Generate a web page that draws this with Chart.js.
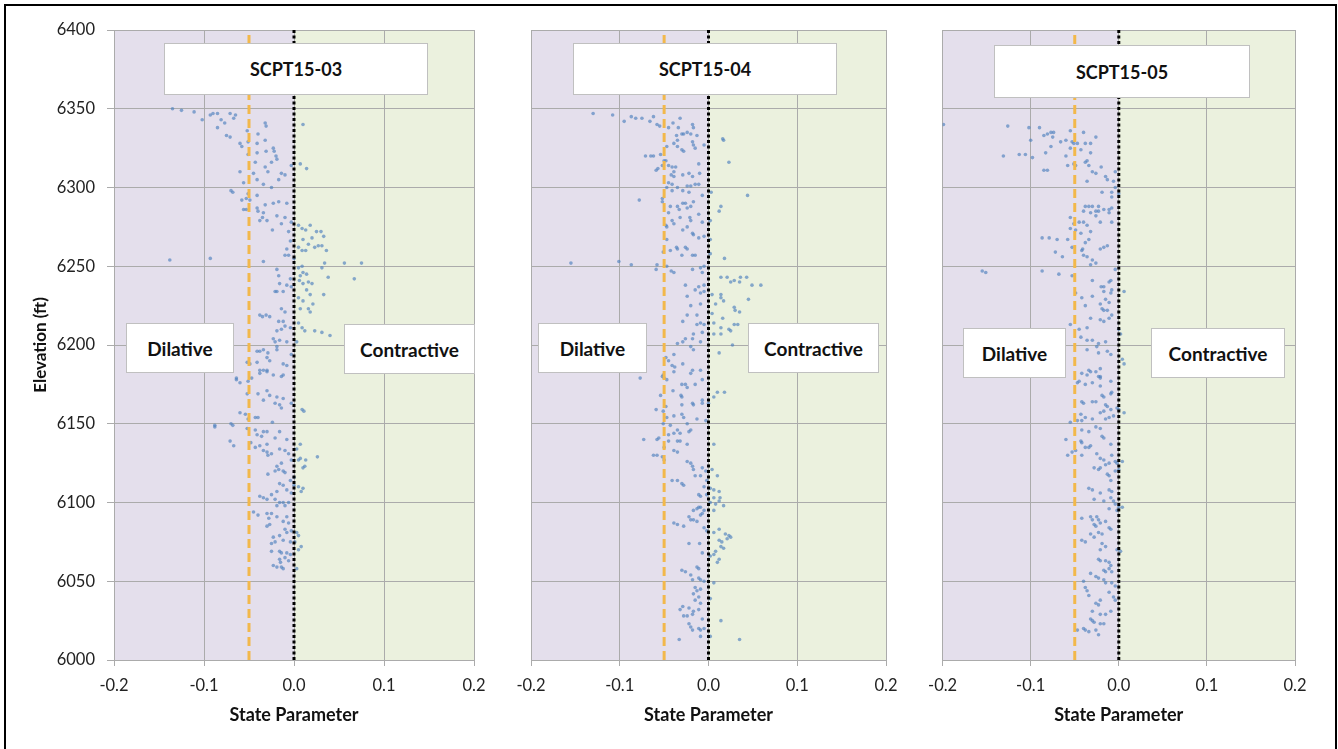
<!DOCTYPE html>
<html><head><meta charset="utf-8">
<script src="https://cdn.jsdelivr.net/npm/chart.js@4.4.0/dist/chart.umd.min.js"></script>
<style>
html,body{margin:0;padding:0;background:#fff;width:1338px;height:749px;overflow:hidden;font-family:Lato,'Liberation Sans',sans-serif;}
#frame{position:absolute;left:4px;top:4px;width:1329px;height:780px;border:2px solid #000;border-bottom:none;z-index:5;pointer-events:none;}
canvas.pan{position:absolute;top:0;}
.box{position:absolute;background:#fff;border:1px solid #c0c0c0;box-sizing:border-box;display:flex;align-items:center;justify-content:center;font-weight:700;font-size:19px;color:#111;z-index:4;}
.box.t{font-size:18px;}
</style></head>
<body>
<div id="frame"></div>
<canvas id="c1" class="pan" width="500" height="749" style="left:0px"></canvas>
<canvas id="c2" class="pan" width="418" height="749" style="left:500px"></canvas>
<canvas id="c3" class="pan" width="420" height="749" style="left:918px"></canvas>
<div class="box t" style="left:164px;top:43px;width:264px;height:52px">SCPT15-03</div>
<div class="box" style="left:126px;top:323px;width:108px;height:50px">Dilative</div>
<div class="box" style="left:344px;top:324px;width:131px;height:50px">Contractive</div>
<div class="box t" style="left:573px;top:43px;width:264px;height:52px">SCPT15-04</div>
<div class="box" style="left:538px;top:323px;width:109px;height:50px">Dilative</div>
<div class="box" style="left:748px;top:323px;width:131px;height:50px">Contractive</div>
<div class="box t" style="left:994px;top:45px;width:256px;height:53px">SCPT15-05</div>
<div class="box" style="left:963px;top:328px;width:103px;height:50px">Dilative</div>
<div class="box" style="left:1151px;top:328px;width:134px;height:50px">Contractive</div>
<script>
// ---- data ----
const xTicks = [-0.2, -0.1, 0.0, 0.1, 0.2];
const yTicks = [6000, 6050, 6100, 6150, 6200, 6250, 6300, 6350, 6400];
const dilativeLimit = -0.05;   // orange dashed line
const boundary = 0.0;          // dotted black line
const panelNames = ["SCPT15-03", "SCPT15-04", "SCPT15-05"];

// [state parameter, elevation ft]
const scpt1503 = [
[-0.135,6350],[-0.125,6349],[-0.111,6348],[-0.102,6343],[-0.093,6346],[-0.090,6347],[-0.085,6347],[-0.081,6343],[-0.077,6341],[-0.071,6347],[-0.067,6344],[-0.065,6346],[-0.085,6338],[-0.052,6336],[-0.032,6341],[-0.031,6339],[0.010,6340],
[-0.075,6333],[-0.071,6332],[-0.040,6334],[-0.032,6330],[-0.060,6328],[-0.058,6326],[-0.051,6329],[-0.041,6328],[-0.023,6325],[-0.022,6323],[-0.031,6323],[-0.051,6321],[-0.041,6322],[-0.020,6320],[-0.019,6318],[-0.025,6316],[-0.043,6316],[-0.060,6310],[-0.045,6309],[-0.032,6313],[-0.029,6310],[-0.014,6309],[-0.010,6308],[-0.003,6314],[0.007,6315],[0.014,6312],[-0.017,6305],[-0.041,6305],[-0.034,6302],[-0.025,6300],[-0.056,6303],[-0.070,6298],[-0.068,6297],[-0.051,6296],[-0.041,6295],[-0.058,6292],[-0.053,6293],[-0.049,6292],[-0.032,6289],[-0.023,6290],[-0.017,6291],[-0.008,6290],[-0.041,6287],[-0.040,6285],[-0.056,6286],[-0.053,6286],[-0.034,6284],[-0.035,6281],[-0.019,6282],[-0.010,6281],[-0.038,6279],[-0.030,6279],[-0.014,6277],[-0.003,6278],[-0.024,6273],[-0.006,6272],
[0.005,6276],[0.009,6274],[0.018,6276],[0.013,6273],[0.025,6272],[0.030,6272],[0.033,6269],[0.020,6268],[0.010,6267],[0.005,6262],[0.016,6264],[0.023,6262],[0.027,6263],[0.031,6263],[0.036,6260],[0.009,6260],[0.013,6260],[-0.004,6266],[-0.008,6261],[-0.010,6257],[-0.006,6257],[0.000,6255],
[0.075,6252],[0.056,6252],[0.034,6252],[0.031,6249],[0.067,6242],[0.038,6243],[0.009,6250],[0.005,6249],[0.010,6246],[0.007,6244],[0.014,6245],[0.006,6241],[0.016,6240],[0.020,6239],[0.010,6239],[0.014,6235],[0.018,6232],[0.033,6232],[0.005,6230],[0.010,6228],[0.021,6226],[0.016,6223],[0.018,6221],[0.007,6223],[0.005,6214],[0.009,6211],[0.012,6209],[0.023,6209],[0.031,6208],[0.040,6206],[0.003,6202],
[-0.138,6254],[-0.093,6255],[-0.034,6253],[-0.019,6248],[-0.017,6244],[-0.004,6242],[-0.016,6239],[-0.021,6234],[-0.019,6234],[-0.012,6234],[-0.003,6237],[-0.008,6238],[-0.014,6223],[-0.010,6221],[-0.038,6219],[-0.035,6218],[-0.031,6219],[-0.027,6218],[-0.017,6215],[-0.012,6215],[-0.010,6212],[-0.014,6210],[-0.004,6211],[-0.019,6209],[-0.023,6204],[-0.021,6202],[-0.016,6203],[-0.008,6202],[-0.019,6199],[-0.019,6197],[-0.041,6196],[-0.038,6196],[-0.034,6197],[-0.029,6195],[-0.030,6192],[-0.027,6190],[-0.052,6189],[-0.049,6188],[-0.041,6189],[-0.012,6188],[-0.008,6187],[-0.003,6194],[-0.038,6184],[-0.034,6184],[-0.030,6184],[-0.014,6180],[-0.064,6179],
[-0.064,6178],[-0.060,6176],[-0.051,6177],[-0.047,6179],[-0.038,6182],[-0.030,6183],[-0.023,6181],[-0.012,6181],[-0.052,6169],[-0.040,6169],[-0.030,6171],[-0.027,6168],[-0.034,6165],[-0.019,6167],[-0.012,6166],[-0.021,6163],[-0.016,6162],[-0.014,6160],[-0.003,6163],[0.009,6159],[0.011,6158],[-0.060,6157],[-0.054,6156],[-0.051,6153],[-0.043,6154],[-0.040,6154],[-0.024,6151],[-0.088,6149],[-0.088,6148],[-0.070,6150],[-0.068,6149],[-0.052,6147],[-0.043,6146],[-0.034,6145],[-0.030,6145],[-0.041,6143],[-0.036,6142],[-0.021,6141],[-0.016,6145],[-0.008,6140],[-0.071,6139],[-0.067,6136],[-0.048,6138],[-0.038,6136],[-0.043,6135],[-0.030,6137],[-0.016,6134],[-0.010,6133],[-0.034,6133],[-0.030,6132],[-0.029,6130],[-0.025,6131],[0.007,6137],[0.003,6134],[-0.006,6131],[-0.003,6127],[0.005,6127],[0.007,6128],[0.013,6127],[0.026,6129],[0.010,6122],[0.012,6123],[-0.019,6123],[-0.017,6121],[-0.014,6125],[-0.012,6120],[-0.021,6120],[-0.010,6119],[-0.029,6118],[0.000,6116],[-0.004,6114],[-0.016,6112],[-0.012,6111],[0.000,6111],[0.005,6110],[0.010,6109],[0.008,6107],[-0.008,6108],[-0.019,6107],[-0.003,6106],[-0.038,6104],[-0.034,6103],[-0.030,6102],[-0.025,6105],[-0.021,6102],[-0.016,6100],[-0.012,6100],[-0.019,6098],[-0.010,6098],[-0.006,6100],[-0.045,6094],[-0.040,6092],[-0.030,6093],[-0.025,6093],[-0.028,6090],[-0.019,6091],[-0.008,6091],[-0.012,6088],[-0.006,6087],[-0.030,6085],[-0.027,6086],[-0.010,6083],[-0.008,6081],[-0.003,6082],[0.003,6081],[0.005,6079],[-0.023,6078],[-0.016,6079],[-0.012,6076],[-0.004,6075],[0.001,6075],[-0.025,6074],[-0.021,6075],[0.008,6072],[0.005,6070],[-0.016,6069],[-0.014,6068],[-0.025,6069],[-0.008,6068],[-0.004,6067],[-0.010,6065],[-0.016,6064],[-0.015,6062],[-0.006,6063],[-0.023,6060],[-0.019,6059],[-0.014,6059],[-0.012,6058],[0.003,6058]
];

const scpt1504 = [
[-0.130,6347],[-0.108,6346],[-0.095,6342],[-0.087,6345],[-0.082,6344],[-0.075,6344],[-0.066,6342],[-0.062,6345],[-0.058,6340],[-0.055,6339],[-0.045,6338],[-0.040,6341],[-0.032,6344],[-0.034,6338],[-0.030,6334],[-0.028,6334],[-0.036,6333],[-0.024,6335],[-0.020,6334],[-0.018,6340],[-0.017,6338],[-0.013,6333],[-0.047,6326],[-0.039,6328],[-0.035,6326],[-0.030,6324],[-0.028,6323],[-0.018,6329],[-0.017,6327],[-0.015,6325],[-0.005,6327],[-0.035,6330],[0.016,6331],[0.017,6330],[-0.071,6320],[-0.065,6320],[-0.062,6320],[-0.054,6321],[-0.050,6317],[-0.048,6317],[-0.052,6314],[-0.059,6311],[-0.057,6312],[-0.045,6314],[-0.041,6313],[-0.037,6313],[-0.039,6310],[-0.042,6308],[-0.039,6307],[-0.029,6308],[-0.022,6309],[-0.018,6307],[-0.011,6315],[-0.010,6309],[0.023,6316],[-0.045,6303],[-0.041,6302],[-0.035,6300],[-0.024,6301],[-0.020,6301],[-0.015,6302],[-0.011,6302],[-0.047,6300],[-0.041,6298],[-0.029,6298],[-0.022,6297],[-0.007,6295],[0.003,6297],[0.044,6295],[-0.052,6293],[-0.052,6291],[-0.078,6292],[-0.043,6288],[-0.035,6288],[-0.033,6286],[-0.029,6290],[-0.026,6290],[-0.024,6287],[-0.020,6288],[-0.017,6291],[0.014,6288],[0.012,6285],[-0.045,6284],[-0.041,6279],[-0.032,6281],[-0.021,6281],[-0.020,6279],[-0.011,6283],[-0.007,6278],[0.002,6279],[-0.048,6276],[-0.047,6275],[-0.039,6277],[-0.029,6273],[-0.024,6275],[-0.018,6271],[-0.017,6270],[-0.011,6268],[-0.005,6269],[0.002,6267],[-0.047,6267],[-0.036,6262],[-0.035,6261],[-0.026,6262],[-0.024,6261],[-0.043,6260],[-0.051,6259],[-0.030,6257],[-0.018,6257],[-0.015,6257],[0.002,6258],[0.018,6255],[-0.155,6252],[-0.101,6253],[-0.087,6251],[-0.058,6251],[-0.059,6248],[-0.047,6250],[-0.042,6247],[-0.039,6246],[-0.018,6248],[-0.009,6249],[-0.005,6250],[-0.007,6246],[0.014,6243],[0.021,6243],[0.025,6240],[0.036,6243],[0.043,6243],[0.049,6238],[0.059,6238],[0.029,6241],[0.035,6240],[-0.026,6238],[-0.011,6237],[-0.005,6238],[-0.015,6235],[-0.009,6233],[-0.024,6231],[-0.005,6234],[0.004,6232],[0.014,6232],[0.014,6230],[0.008,6226],[0.017,6228],[0.029,6224],[0.030,6222],[0.035,6221],[0.045,6229],[-0.009,6226],[-0.020,6225],[-0.013,6219],[-0.024,6219],[0.004,6220],[0.016,6217],[-0.029,6215],[-0.013,6213],[-0.009,6214],[-0.005,6213],[0.006,6214],[0.014,6211],[0.023,6210],[0.029,6213],[0.033,6213],[0.025,6209],[-0.007,6208],[0.006,6207],[0.014,6207],[-0.017,6207],[-0.026,6204],[-0.029,6202],[-0.018,6204],[-0.009,6202],[-0.035,6201],[-0.020,6199],[-0.017,6197],[0.027,6200],[0.012,6195],[-0.048,6192],[-0.045,6190],[-0.039,6194],[-0.041,6187],[-0.038,6186],[-0.029,6188],[-0.018,6184],[-0.051,6181],[-0.077,6179],[-0.009,6184],
[-0.052,6180],[-0.050,6179],[-0.039,6183],[-0.047,6178],[-0.030,6175],[-0.026,6175],[-0.024,6173],[-0.040,6171],[-0.031,6168],[-0.030,6167],[-0.020,6182],[-0.007,6178],[-0.015,6175],[0.010,6170],[0.018,6170],[0.006,6167],[-0.054,6168],[-0.030,6162],[-0.018,6163],[-0.017,6162],[-0.007,6165],[-0.007,6163],[0.000,6163],[-0.059,6159],[-0.051,6158],[-0.048,6161],[-0.047,6154],[-0.039,6155],[-0.030,6156],[-0.028,6154],[-0.013,6153],[-0.003,6152],[-0.051,6150],[-0.043,6149],[-0.024,6150],[-0.035,6146],[-0.039,6144],[-0.022,6145],[-0.020,6146],[-0.045,6143],[-0.032,6144],[-0.073,6140],[-0.056,6141],[-0.058,6140],[-0.045,6139],[-0.035,6139],[-0.032,6139],[-0.024,6137],[-0.050,6135],[-0.039,6133],[-0.035,6132],[0.006,6137],[-0.062,6130],[-0.058,6130],[-0.052,6129],[-0.050,6127],[-0.024,6126],[-0.020,6125],[-0.018,6123],[-0.017,6121],[-0.007,6122],[-0.003,6120],[0.004,6121],[0.010,6117],[-0.015,6117],[-0.009,6117],[-0.002,6114],[-0.041,6114],[-0.035,6114],[-0.030,6112],[-0.028,6111],[-0.005,6110],[0.002,6109],[0.006,6108],[0.012,6107],[-0.011,6105],[-0.009,6104],[-0.002,6105],[0.006,6103],[0.012,6101],[0.013,6103],[0.002,6100],[0.008,6099],[0.017,6098],[-0.011,6097],[-0.009,6097],[-0.013,6096],[-0.017,6095],[-0.005,6095],[0.006,6095],[-0.009,6092],[-0.007,6093],[-0.022,6091],[-0.020,6089],[-0.017,6089],[-0.013,6088],[-0.039,6087],[-0.035,6086],[-0.028,6085],[-0.005,6084],[-0.002,6082],[0.012,6083],[0.006,6081],[0.019,6080],[0.023,6079],[0.025,6078],[0.021,6077],[0.012,6076],[0.015,6075],[0.014,6072],[0.017,6071],[0.008,6069],[0.006,6067],[0.012,6064],[0.010,6062],[-0.022,6074],[-0.010,6074],[-0.007,6068],[0.002,6066],[-0.030,6057],[-0.026,6056],[-0.020,6054],[-0.013,6059],[-0.011,6058],[-0.018,6051],[-0.011,6052],[-0.009,6051],[-0.005,6050],[0.006,6049],[-0.015,6046],[-0.013,6044],[-0.009,6045],[-0.017,6042],[-0.011,6040],[-0.015,6038],[-0.009,6036],[0.002,6039],[-0.029,6034],[-0.032,6032],[-0.022,6033],[-0.017,6031],[-0.011,6032],[-0.028,6028],[-0.024,6028],[-0.018,6029],[-0.007,6026],[0.014,6025],[-0.022,6023],[-0.020,6021],[-0.018,6019],[-0.011,6020],[-0.009,6019],[-0.005,6020],[-0.009,6015],[-0.033,6013],[0.002,6015],[0.035,6013]
];

const scpt1505 = [
[-0.199,6340],[-0.126,6339],[-0.131,6320],[-0.113,6321],[-0.106,6321],[-0.098,6319],[-0.102,6338],[-0.090,6338],[-0.085,6333],[-0.081,6334],[-0.077,6335],[-0.074,6335],[-0.075,6332],[-0.100,6330],[-0.085,6311],[-0.081,6311],[-0.083,6322],[-0.077,6326],[-0.066,6329],[-0.060,6330],[-0.055,6336],[-0.053,6329],[-0.051,6328],[-0.055,6325],[-0.047,6328],[-0.043,6324],[-0.040,6335],[-0.038,6328],[-0.032,6328],[-0.026,6332],[-0.032,6322],[-0.060,6320],[-0.058,6314],[-0.051,6315],[-0.049,6314],[-0.038,6316],[-0.036,6317],[-0.034,6314],[-0.030,6310],[-0.026,6309],[-0.036,6304],[-0.020,6313],[-0.015,6307],[-0.013,6305],[-0.004,6310],[-0.006,6304],[-0.019,6297],[-0.008,6297],[-0.008,6294],[-0.004,6300],[0.000,6296],[-0.038,6288],[-0.034,6288],[-0.030,6288],[-0.026,6285],[-0.023,6285],[-0.040,6285],[-0.032,6284],[-0.023,6288],[-0.017,6286],[-0.011,6286],[-0.011,6284],[-0.008,6287],[-0.026,6282],[-0.021,6278],[-0.008,6278],[-0.055,6281],[-0.051,6277],[-0.045,6278],[-0.040,6278],[-0.055,6274],[-0.049,6273],[-0.036,6276],[-0.032,6272],[-0.043,6271],[-0.087,6268],[-0.079,6268],[-0.070,6267],[-0.058,6267],[-0.053,6262],[-0.038,6265],[-0.034,6267],[-0.042,6260],[-0.041,6261],[-0.021,6261],[-0.017,6262],[-0.013,6263],[-0.072,6259],[-0.064,6256],[-0.040,6257],[-0.036,6256],[-0.030,6254],[-0.026,6252],[-0.032,6251],[-0.155,6247],[-0.151,6246],[-0.087,6247],[-0.068,6245],[-0.053,6244],[-0.030,6241],[-0.017,6237],[-0.011,6240],[-0.009,6241],[-0.020,6237],[-0.004,6248],[0.006,6234],[-0.008,6235],[-0.009,6233],[-0.049,6233],[-0.042,6230],[-0.030,6231],[-0.017,6234],[-0.015,6229],[-0.011,6227],[-0.021,6226],[-0.019,6223],[-0.038,6225],[-0.017,6222],[-0.013,6222],[-0.008,6219],[-0.021,6216],[-0.017,6215],[-0.011,6217],[-0.032,6217],[0.000,6210],[0.002,6207],[-0.055,6213],[-0.045,6210],[-0.036,6211],[-0.043,6205],[-0.036,6203],[-0.030,6203],[-0.023,6201],[-0.015,6202],[-0.036,6197],[-0.025,6199],[-0.023,6195],[-0.013,6196],[-0.009,6194],[0.004,6191],[0.006,6188],[-0.042,6182],[-0.034,6184],[-0.026,6183],[-0.021,6185],[-0.021,6180],
[-0.036,6181],[-0.032,6183],[-0.023,6180],[-0.021,6179],[-0.047,6176],[-0.045,6177],[-0.038,6175],[-0.030,6176],[-0.021,6174],[-0.009,6177],[-0.008,6170],[-0.009,6169],[-0.042,6164],[-0.040,6163],[-0.030,6164],[-0.026,6164],[-0.019,6168],[-0.017,6167],[-0.015,6162],[-0.013,6161],[-0.009,6159],[-0.002,6160],[0.000,6159],[0.006,6157],[-0.021,6157],[-0.017,6158],[-0.043,6156],[-0.038,6154],[-0.030,6153],[-0.047,6152],[-0.055,6151],[-0.042,6152],[-0.015,6153],[-0.011,6154],[-0.006,6155],[-0.026,6148],[-0.021,6147],[-0.042,6146],[-0.034,6145],[-0.019,6142],[-0.017,6141],[-0.060,6140],[-0.043,6139],[-0.042,6138],[-0.038,6135],[-0.034,6135],[-0.032,6136],[-0.049,6133],[-0.053,6132],[-0.058,6130],[-0.042,6130],[-0.025,6131],[-0.009,6137],[-0.008,6130],[-0.004,6126],[-0.002,6125],[0.004,6126],[-0.021,6128],[-0.017,6127],[-0.028,6122],[-0.023,6121],[-0.021,6122],[-0.015,6124],[-0.011,6125],[-0.004,6120],[0.000,6121],[-0.011,6117],[-0.009,6114],[-0.013,6118],[-0.034,6109],[-0.030,6108],[-0.021,6106],[-0.011,6108],[-0.008,6107],[-0.028,6102],[-0.017,6101],[-0.009,6103],[-0.006,6101],[-0.004,6099],[0.000,6097],[0.004,6097],[-0.002,6095],[-0.011,6096],[-0.042,6090],[-0.032,6091],[-0.030,6089],[-0.025,6091],[-0.023,6089],[-0.028,6086],[-0.026,6085],[-0.021,6087],[-0.015,6088],[-0.011,6084],[-0.009,6083],[-0.023,6081],[-0.019,6080],[-0.032,6080],[-0.028,6078],[-0.042,6076],[-0.038,6075],[-0.019,6074],[-0.015,6072],[-0.021,6070],[-0.002,6070],[0.002,6069],[-0.023,6064],[-0.021,6063],[-0.015,6063],[-0.011,6062],[-0.009,6060],[-0.011,6058],[-0.017,6057],[-0.008,6056],[-0.015,6056],[-0.032,6055],[-0.040,6050],[-0.026,6053],[-0.023,6052],[-0.017,6051],[-0.015,6049],[-0.008,6049],[-0.004,6047],[-0.038,6046],[-0.036,6044],[-0.034,6041],[-0.011,6043],[-0.006,6040],[-0.004,6038],[-0.021,6038],[-0.026,6036],[-0.023,6035],[-0.030,6031],[-0.009,6031],[-0.015,6029],[-0.021,6029],[-0.032,6026],[-0.030,6025],[-0.028,6024],[-0.021,6023],[-0.047,6019],[-0.040,6020],[-0.038,6019],[-0.034,6018],[-0.026,6019],[-0.023,6016],[-0.017,6023]
];

// ---- drawing ----
const FONT = "Lato, 'Liberation Sans', sans-serif";
const GRID = '#ababab';
const PURPLE = '#e4dfec', GREEN = '#ebf1de';

const bgPlugin = {
  id: 'zones',
  beforeDraw(chart) {
    const {ctx, chartArea: a, scales: {x}} = chart;
    const xb = x.getPixelForValue(boundary);
    ctx.save();
    ctx.fillStyle = PURPLE; ctx.fillRect(a.left, a.top, xb - a.left, a.bottom - a.top);
    ctx.fillStyle = GREEN; ctx.fillRect(xb, a.top, a.right - xb, a.bottom - a.top);
    ctx.restore();
  }
};

function vline(xv, color, dash, width) {
  return {type: 'line', data: [{x: xv, y: yTicks[0]}, {x: xv, y: yTicks[yTicks.length - 1]}],
    borderColor: color, borderWidth: width, borderDash: dash, pointRadius: 0, fill: false, order: 0};
}

function makePanel(id, pts, cfg) {
  new Chart(document.getElementById(id), {
    type: 'scatter',
    data: {datasets: [
      {data: pts.map(p => ({x: p[0], y: p[1]})), backgroundColor: 'rgba(79,129,189,0.66)', borderWidth: 0, pointRadius: 1.8, pointStyle: 'circle', order: 2},
      vline(dilativeLimit, '#f2b84b', [9, 5], 3),
      vline(boundary, '#000000', [3, 2.5], 3)
    ]},
    options: {
      responsive: false, animation: false, events: [],
      layout: {padding: {top: 30, right: cfg.padR, bottom: 19, left: 0}},
      plugins: {legend: {display: false}, tooltip: {enabled: false}},
      scales: {
        x: {type: 'linear', min: xTicks[0], max: xTicks[xTicks.length - 1],
          afterBuildTicks: s => { s.ticks = xTicks.map(v => ({value: v})); },
          afterFit: s => { s.height = 70; },
          grid: {color: GRID, tickLength: 6, drawTicks: true},
          border: {color: GRID},
          ticks: {callback: v => Number(v).toFixed(1), font: {family: FONT, size: 16.5}, color: '#222', padding: 10, maxRotation: 0},
          title: {display: true, text: 'State Parameter', font: {family: FONT, size: 18, weight: 'bold'}, color: '#111', padding: {top: 4, bottom: 4}}
        },
        y: {type: 'linear', min: yTicks[0], max: yTicks[yTicks.length - 1],
          afterBuildTicks: s => { s.ticks = yTicks.map(v => ({value: v})); },
          afterFit: s => { s.width = cfg.yW; },
          grid: {color: GRID, tickLength: 7, drawTicks: cfg.showY},
          border: {color: GRID},
          ticks: {display: cfg.showY, callback: v => String(v), font: {family: FONT, size: 16.5}, color: '#222', padding: 12},
          title: {display: cfg.showY, text: 'Elevation (ft)', font: {family: FONT, size: 17, weight: 'bold'}, color: '#111', padding: {top: 30, bottom: 0}}
        }
      }
    },
    plugins: [bgPlugin]
  });
}

makePanel('c1', scpt1503, {yW: 114, padR: 26, showY: true});
makePanel('c2', scpt1504, {yW: 31, padR: 32, showY: false});
makePanel('c3', scpt1505, {yW: 23, padR: 43, showY: false});
</script>
</body></html>
